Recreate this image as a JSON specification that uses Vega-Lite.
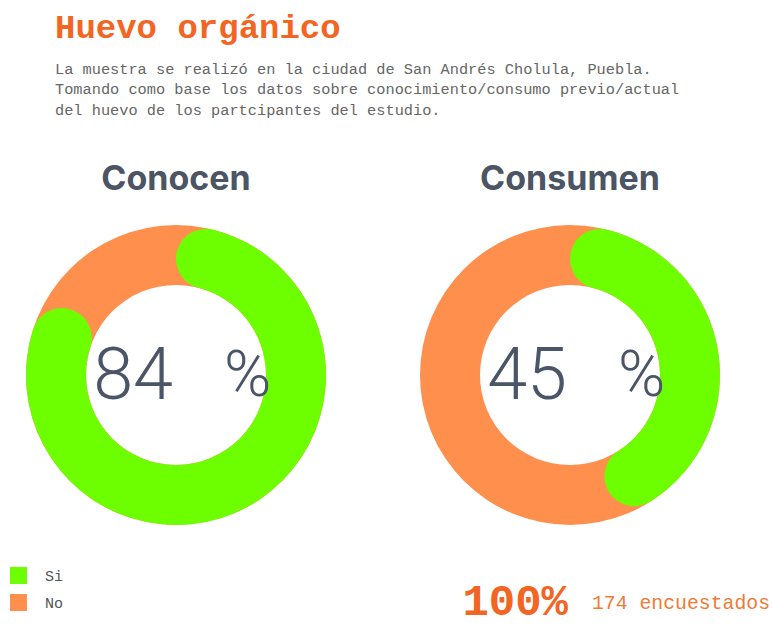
{
  "$schema": "https://vega.github.io/schema/vega-lite/v6.json",
  "background": "white",
  "padding": {"left": 10, "top": 10, "right": 0, "bottom": 0},
  "title": {
    "text": "Huevo orgánico",
    "subtitle": [
      "La muestra se realizó en la ciudad de San Andrés Cholula, Puebla.",
      "Tomando como base los datos sobre conocimiento/consumo previo/actual",
      "del huevo de los partcipantes del estudio."
    ],
    "anchor": "start",
    "frame": "group",
    "dx": 29,
    "font": "Liberation Mono",
    "fontSize": 34,
    "fontWeight": "bold",
    "color": "#F26522",
    "subtitleFont": "Liberation Mono",
    "subtitleFontSize": 15.3,
    "subtitleColor": "#666666",
    "subtitleLineHeight": 20.5,
    "subtitlePadding": 17,
    "offset": 45
  },
  "vconcat": [
    {
      "data": {
        "values": [
          {"pregunta": "Conocen", "respuesta": "Si", "valor": 84},
          {"pregunta": "Conocen", "respuesta": "No", "valor": 16},
          {"pregunta": "Consumen", "respuesta": "Si", "valor": 45},
          {"pregunta": "Consumen", "respuesta": "No", "valor": 55}
        ]
      },
      "facet": {
        "column": {
          "field": "pregunta",
          "type": "nominal",
          "header": {
            "title": null,
            "labelFont": "Inter",
            "labelFontSize": 34,
            "labelFontWeight": "bold",
            "labelColor": "#4B5563",
            "labelPadding": -6,
            "labelBaseline": "bottom"
          }
        }
      },
      "spacing": {"column": 94, "row": 0},
      "spec": {
        "width": 300,
        "height": 300,
        "layer": [
          {
            "mark": {"type": "arc", "radius": 150, "radius2": 90, "color": "#FF8F4C"},
            "encoding": {
              "theta": {"aggregate": "sum", "field": "valor", "type": "quantitative"}
            }
          },
          {
            "transform": [{"filter": "datum.respuesta === 'Si'"}],
            "mark": {"type": "arc", "radius": 150, "radius2": 90, "cornerRadius": 30},
            "encoding": {
              "theta": {"field": "valor", "type": "quantitative", "stack": true},
              "color": {
                "field": "respuesta",
                "type": "nominal",
                "scale": {"domain": ["Si", "No"], "range": ["#6DFF00", "#FF8F4C"]},
                "legend": {
                  "title": null,
                  "orient": "none",
                  "legendX": -16,
                  "legendY": 342,
                  "padding": 0,
                  "symbolType": "square",
                  "symbolSize": 289,
                  "symbolOpacity": 1,
                  "symbolStrokeWidth": 0,
                  "rowPadding": 10,
                  "labelOffset": 18,
                  "labelFont": "Liberation Mono",
                  "labelFontSize": 15,
                  "labelColor": "#555555"
                }
              }
            }
          },
          {
            "transform": [{"filter": "datum.respuesta === 'Si'"}],
            "mark": {"type": "text", "font": "Roboto", "fontWeight": 300, "fontSize": 72, "color": "#4B5568", "align": "right", "baseline": "middle", "dx": -3, "dy": 2},
            "encoding": {
              "text": {"field": "valor", "type": "quantitative"}
            }
          },
          {
            "transform": [{"filter": "datum.respuesta === 'Si'"}],
            "mark": {"type": "text", "text": "%", "font": "Roboto", "fontWeight": 300, "fontSize": 64, "color": "#4B5568", "align": "left", "baseline": "middle", "dx": 48, "dy": 2},
            "encoding": {}
          }
        ]
      }
    },
    {
      "width": 747,
      "height": 43,
      "data": {"values": [{"total": "100%", "encuestados": "174 encuestados"}]},
      "layer": [
        {
          "mark": {"type": "text", "font": "Liberation Mono", "fontWeight": "bold", "fontSize": 44, "color": "#F26522", "align": "right", "baseline": "middle"},
          "encoding": {
            "text": {"field": "total"},
            "x": {"value": 542},
            "y": {"value": 22}
          }
        },
        {
          "mark": {"type": "text", "font": "Liberation Mono", "fontSize": 19.8, "color": "#F37A35", "align": "left", "baseline": "middle"},
          "encoding": {
            "text": {"field": "encuestados"},
            "x": {"value": 566},
            "y": {"value": 23}
          }
        }
      ]
    }
  ],
  "spacing": 55,
  "config": {
    "view": {"stroke": null}
  }
}
